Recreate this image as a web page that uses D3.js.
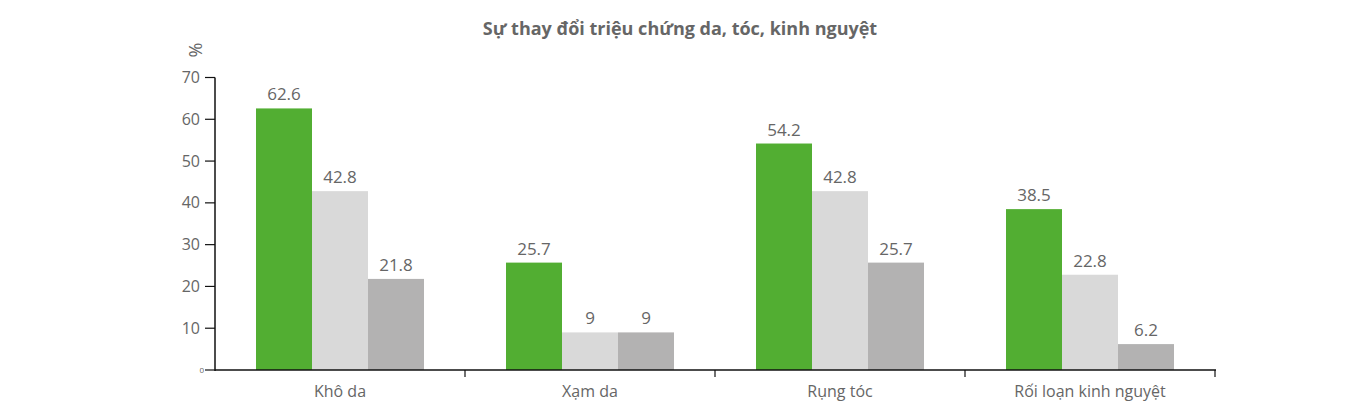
<!DOCTYPE html><html><head><meta charset="utf-8"><script src="https://cdn.jsdelivr.net/npm/d3@7"></script>
<style>body{margin:0;background:#fff}text{font-family:"Open Sans",sans-serif}</style></head><body><svg id="c" width="1362" height="416"></svg>
<script>
const categories=["Khô da","Xạm da","Rụng tóc","Rối loạn kinh nguyệt"];
const series1=[62.6,25.7,54.2,38.5];
const series2=[42.8,9,42.8,22.8];
const series3=[21.8,9,25.7,6.2];
const yTicks=[0,10,20,30,40,50,60,70];
const colors=["#52ae32","#d9d9d9","#b3b2b2"];
const svg=d3.select("#c");
const x=d3.scaleBand().domain(categories).range([215,1215]);
const y=d3.scaleLinear().domain([0,70]).range([370,77.5]);
const bw=56;
const all=[series1,series2,series3];
all.forEach((s,si)=>{
  categories.forEach((c,i)=>{
    const cx=x(c)+x.bandwidth()/2-1.5*bw+si*bw;
    svg.append("rect").attr("x",cx).attr("y",y(s[i])).attr("width",bw).attr("height",y(0)-y(s[i])).attr("fill",colors[si]);
    svg.append("text").attr("x",cx+bw/2).attr("y",y(s[i])-8).attr("text-anchor","middle").attr("font-size",17).attr("fill","#666").text(s[i]);
  });
});
// y axis
svg.append("line").attr("x1",215).attr("x2",215).attr("y1",77.5).attr("y2",371).attr("stroke","#111").attr("stroke-width",1.5);
yTicks.forEach(t=>{
  svg.append("line").attr("x1",205).attr("x2",215).attr("y1",y(t)).attr("y2",y(t)).attr("stroke","#111").attr("stroke-width",1.2);
  svg.append("text").attr("x",t===0?204:200).attr("y",y(t)).attr("dy","0.35em").attr("text-anchor","end").attr("font-size",t===0?8:16).attr("fill","#666").text(t);
});
// x axis
svg.append("line").attr("x1",215).attr("x2",1216).attr("y1",370).attr("y2",370).attr("stroke","#111").attr("stroke-width",1.5);
categories.forEach((c,i)=>{
  const xe=x(c)+x.bandwidth();
  svg.append("line").attr("x1",xe).attr("x2",xe).attr("y1",370).attr("y2",377).attr("stroke","#111").attr("stroke-width",1.2);
  svg.append("text").attr("x",x(c)+x.bandwidth()/2).attr("y",397).attr("text-anchor","middle").attr("font-size",16).attr("fill","#666").text(c);
});
svg.append("text").attr("transform","translate(196,50) rotate(-90)").attr("text-anchor","middle").attr("dy","0.35em").attr("font-size",18).attr("fill","#666").text("%");
svg.append("text").attr("x",680).attr("y",35).attr("text-anchor","middle").attr("font-size",18).attr("font-weight","bold").attr("fill","#666").text("Sự thay đổi triệu chứng da, tóc, kinh nguyệt");
</script></body></html>
